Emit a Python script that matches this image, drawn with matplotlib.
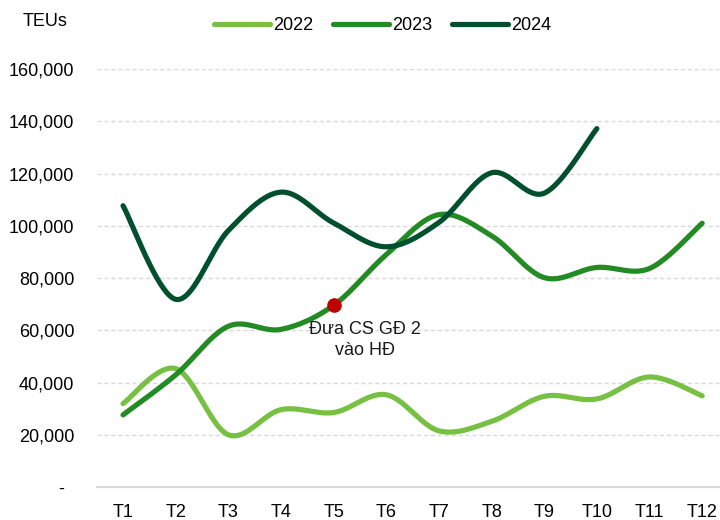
import numpy as np
import matplotlib
matplotlib.use("Agg")
import matplotlib.pyplot as plt
from matplotlib.lines import Line2D

plt.rcParams['font.family'] = ['Liberation Sans', 'DejaVu Sans']

months = ["T1", "T2", "T3", "T4", "T5", "T6", "T7", "T8", "T9", "T10", "T11", "T12"]
y2022 = [32000, 45400, 20100, 29700, 28600, 35400, 21600, 25200, 34800, 33800, 42200, 35000]
y2023 = [27700, 43000, 61600, 60400, 69600, 89000, 104300, 96200, 80200, 84100, 83700, 101000]
y2024 = [107700, 71900, 98200, 112900, 101100, 92000, 101300, 120300, 112500, 137200]
series_names = ["2022", "2023", "2024"]
series_values = [y2022, y2023, y2024]
colors = ["#77C043", "#238B23", "#00502F"]
yticks = [0, 20000, 40000, 60000, 80000, 100000, 120000, 140000, 160000]
ytick_labels = ["-  ", "20,000", "40,000", "60,000", "80,000", "100,000", "120,000", "140,000", "160,000"]
marker_series = 1
marker_month = 4
note = "Đưa CS GĐ 2\nvào HĐ"
unit_label = "TEUs"


def smooth(xs, ys, n=40):
    pts = np.column_stack([xs, ys]).astype(float)
    P = np.vstack([pts[0], pts, pts[-1]])
    out = []
    t = np.linspace(0, 1, n)[:, None]
    for i in range(1, len(P) - 2):
        p0, p1, p2, p3 = P[i - 1], P[i], P[i + 1], P[i + 2]
        c1 = p1 + (p2 - p0) / 6.0
        c2 = p2 - (p3 - p1) / 6.0
        seg = (1 - t) ** 3 * p1 + 3 * (1 - t) ** 2 * t * c1 + 3 * (1 - t) * t ** 2 * c2 + t ** 3 * p2
        out.append(seg if i == 1 else seg[1:])
    return np.vstack(out)


fig = plt.figure(figsize=(7.2, 5.2), dpi=100)
ax = fig.add_axes([96.7 / 720, 1 - 487.3 / 520, (728.5 - 96.7) / 720, (487.3 - 69) / 520])

lw = 3.75
for name, vals, col in zip(series_names, series_values, colors):
    xs = np.arange(len(vals))
    curve = smooth(xs, vals)
    ax.plot(curve[:, 0], curve[:, 1], color=col, lw=lw, solid_capstyle='round', zorder=3)

mv = series_values[marker_series][marker_month]
ax.plot([marker_month], [mv], 'o', color="#C00000", markersize=9.5, zorder=5)
ax.annotate(note, xy=(marker_month, mv), xytext=(31, -35), textcoords='offset pixels',
            ha='center', va='center', fontsize=13, color='#1a1a1a', linespacing=1.3, zorder=6)

ax.set_xlim(-0.5, 11.5)
ax.set_ylim(0, 160000)
ax.set_xticks(range(len(months)))
ax.set_xticklabels(months, fontsize=13)
ax.set_yticks(yticks)
ax.set_yticklabels(ytick_labels, fontsize=13)
ax.tick_params(axis='both', length=0)
ax.tick_params(axis='y', pad=16)
ax.tick_params(axis='x', pad=12)

for v in yticks[1:]:
    ax.axhline(v, color='#D9D9D9', lw=1, ls=(0, (3, 2)), zorder=1)
for s in ['top', 'right', 'left']:
    ax.spines[s].set_visible(False)
ax.spines['bottom'].set_color('#D9D9D9')
ax.spines['bottom'].set_linewidth(1.5)
ax.set_facecolor('white')

fig.text(23 / 720, 1 - 21 / 520, unit_label, fontsize=13, ha='left', va='center')

handles = [Line2D([], [], color=c, lw=lw, solid_capstyle='round') for c in colors]
fig.legend(handles, series_names, loc='center', bbox_to_anchor=(383 / 720, 1 - 26 / 520), ncol=3,
           frameon=False, fontsize=13, handlelength=3.1, handletextpad=0.17, columnspacing=1.1,
           borderpad=0)

fig.savefig('out.png', dpi=100)
